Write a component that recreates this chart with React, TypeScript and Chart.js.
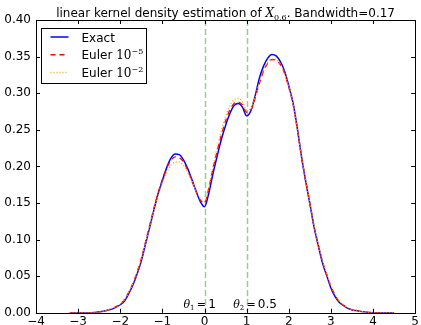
import React, { useEffect, useRef } from "react";
import { Chart, registerables } from "chart.js";

Chart.register(...registerables);

const xValues = [
  -3.2, -3.0, -2.8, -2.6, -2.4, -2.2, -2.0, -1.9, -1.8, -1.7, -1.6, -1.5, -1.4, -1.3, -1.2, -1.1,
  -1.0, -0.9, -0.8, -0.7, -0.6, -0.5, -0.4, -0.3, -0.2, -0.1, 0.0, 0.1, 0.2, 0.3, 0.4, 0.5, 0.6,
  0.7, 0.8, 0.9, 1.0, 1.1, 1.2, 1.3, 1.4, 1.5, 1.6, 1.7, 1.8, 1.9, 2.0, 2.1, 2.2, 2.3, 2.4, 2.5,
  2.6, 2.7, 2.8, 2.9, 3.0, 3.1, 3.2, 3.3, 3.4, 3.5, 3.6, 3.8, 4.0, 4.2, 4.5,
];

const exactValues = [
  0, 0, 0, 0.0005, 0.002, 0.005, 0.011, 0.016, 0.026, 0.038, 0.053, 0.071, 0.094, 0.117, 0.141, 0.163,
  0.181, 0.198, 0.211, 0.217, 0.216, 0.209, 0.197, 0.182, 0.166, 0.152, 0.145, 0.163, 0.19, 0.214, 0.237, 0.256, 0.272,
  0.283, 0.286, 0.281, 0.269, 0.276, 0.296, 0.32, 0.337, 0.348, 0.353, 0.351, 0.343, 0.33, 0.31, 0.287, 0.253, 0.214, 0.18, 0.149,
  0.117, 0.092, 0.068, 0.051, 0.034, 0.022, 0.014, 0.01, 0.006, 0.004, 0.003, 0.001, 0, 0, 0,
];

const euler5Values = [
  0, 0, 0, 0.0005, 0.002, 0.006, 0.012, 0.018, 0.028, 0.04, 0.056, 0.074, 0.097, 0.12, 0.143, 0.164,
  0.182, 0.197, 0.208, 0.213, 0.212, 0.206, 0.195, 0.18, 0.166, 0.154, 0.15, 0.17, 0.197, 0.221, 0.243, 0.262, 0.277,
  0.286, 0.288, 0.284, 0.274, 0.277, 0.293, 0.313, 0.33, 0.341, 0.346, 0.345, 0.339, 0.327, 0.308, 0.285, 0.252, 0.214, 0.181, 0.15,
  0.118, 0.093, 0.07, 0.052, 0.036, 0.024, 0.015, 0.01, 0.007, 0.004, 0.003, 0.001, 0, 0, 0,
];

const euler2Values = [
  0, 0, 0, 0.0005, 0.002, 0.006, 0.012, 0.018, 0.028, 0.04, 0.055, 0.073, 0.095, 0.118, 0.14, 0.16,
  0.177, 0.191, 0.201, 0.206, 0.206, 0.201, 0.192, 0.18, 0.167, 0.156, 0.152, 0.172, 0.2, 0.226, 0.249, 0.268, 0.283,
  0.291, 0.293, 0.288, 0.277, 0.279, 0.294, 0.314, 0.331, 0.342, 0.347, 0.346, 0.34, 0.328, 0.309, 0.285, 0.252, 0.215, 0.182, 0.15,
  0.119, 0.094, 0.071, 0.053, 0.037, 0.025, 0.016, 0.011, 0.007, 0.004, 0.003, 0.001, 0, 0, 0,
];

const xTicks = [-4, -3, -2, -1, 0, 1, 2, 3, 4, 5];
const yTicks = [0, 0.05, 0.1, 0.15, 0.2, 0.25, 0.3, 0.35, 0.4];
const thetaLines = [0, 1];

const SANS = "'DejaVu Sans', sans-serif";
const SERIF = "'DejaVu Serif', serif";

type Part = { t: string; f: string; dy?: number };

function drawRich(ctx: CanvasRenderingContext2D, parts: Part[], x: number, y: number, align: "left" | "center") {
  let total = 0;
  for (const p of parts) {
    ctx.font = p.f;
    total += ctx.measureText(p.t).width;
  }
  let cx = align === "center" ? x - total / 2 : x;
  ctx.textBaseline = "alphabetic";
  ctx.textAlign = "left";
  ctx.fillStyle = "#000";
  for (const p of parts) {
    ctx.font = p.f;
    ctx.fillText(p.t, cx, y + (p.dy || 0));
    cx += ctx.measureText(p.t).width;
  }
}

const decorPlugin = {
  id: "decor",
  beforeDatasetsDraw(chart: any) {
    const { ctx, chartArea, scales } = chart;
    ctx.save();
    ctx.strokeStyle = "rgba(0,128,0,0.4)";
    ctx.lineWidth = 1.5;
    ctx.setLineDash([6, 3]);
    for (const v of thetaLines) {
      const px = Math.round(scales.x.getPixelForValue(v)) + 0.5;
      ctx.beginPath();
      ctx.moveTo(px, chartArea.top);
      ctx.lineTo(px, chartArea.bottom);
      ctx.stroke();
    }
    ctx.restore();
  },
  afterDraw(chart: any) {
    const { ctx, chartArea, scales } = chart;
    const { left, right, top, bottom } = chartArea;
    ctx.save();
    ctx.strokeStyle = "#000";
    ctx.lineWidth = 1;
    ctx.setLineDash([]);
    ctx.strokeRect(Math.round(left) + 0.5, Math.round(top) + 0.5, Math.round(right - left), Math.round(bottom - top));
    const tl = 4;
    ctx.beginPath();
    for (const v of xTicks) {
      const px = Math.round(scales.x.getPixelForValue(v)) + 0.5;
      ctx.moveTo(px, bottom);
      ctx.lineTo(px, bottom - tl);
      ctx.moveTo(px, top);
      ctx.lineTo(px, top + tl);
    }
    for (const v of yTicks) {
      const py = Math.round(scales.y.getPixelForValue(v)) + 0.5;
      ctx.moveTo(left, py);
      ctx.lineTo(left + tl, py);
      ctx.moveTo(right, py);
      ctx.lineTo(right - tl, py);
    }
    ctx.stroke();

    drawRich(
      ctx,
      [
        { t: "linear kernel density estimation of ", f: `12px ${SANS}` },
        { t: "X", f: `italic 12px ${SERIF}` },
        { t: "0.6", f: `8px ${SERIF}`, dy: 3 },
        { t: ". Bandwidth=0.17", f: `12px ${SANS}` },
      ],
      (left + right) / 2,
      top - 3,
      "center"
    );

    const ay = scales.y.getPixelForValue(0.007);
    drawRich(
      ctx,
      [
        { t: "θ", f: `italic 11px ${SERIF}` },
        { t: "1", f: `7px ${SERIF}`, dy: 2 },
        { t: "\u2009=\u2009", f: `11px ${SERIF}` },
        { t: "1", f: `12px ${SANS}` },
      ],
      scales.x.getPixelForValue(-0.5),
      ay,
      "left"
    );
    drawRich(
      ctx,
      [
        { t: "θ", f: `italic 11px ${SERIF}` },
        { t: "2", f: `7px ${SERIF}`, dy: 2 },
        { t: "\u2009=\u2009", f: `11px ${SERIF}` },
        { t: "0.5", f: `12px ${SANS}` },
      ],
      scales.x.getPixelForValue(0.68),
      ay,
      "left"
    );

    const bx = Math.round(left) + 5.5;
    const by = Math.round(top) + 8.5;
    const bw = 105;
    const bh = 55;
    ctx.fillStyle = "#fff";
    ctx.fillRect(bx, by, bw, bh);
    ctx.strokeStyle = "#000";
    ctx.lineWidth = 1;
    ctx.setLineDash([]);
    ctx.strokeRect(bx, by, bw, bh);
    const items = [
      { color: "#0000ff", dash: [] as number[], label: [{ t: "Exact", f: `12px ${SANS}` }] as Part[] },
      {
        color: "#ff0000",
        dash: [5, 4],
        label: [
          { t: "Euler ", f: `12px ${SANS}` },
          { t: "10", f: `12px ${SERIF}` },
          { t: "−5", f: `8px ${SERIF}`, dy: -5 },
        ] as Part[],
      },
      {
        color: "#ffa500",
        dash: [1, 2],
        label: [
          { t: "Euler ", f: `12px ${SANS}` },
          { t: "10", f: `12px ${SERIF}` },
          { t: "−2", f: `8px ${SERIF}`, dy: -5 },
        ] as Part[],
      },
    ];
    items.forEach((it, i) => {
      const ly = by + 8.5 + i * 17.8;
      ctx.strokeStyle = it.color;
      ctx.lineWidth = 1.5;
      ctx.setLineDash(it.dash);
      ctx.beginPath();
      ctx.moveTo(bx + 9, ly);
      ctx.lineTo(bx + 27, ly);
      ctx.stroke();
      ctx.setLineDash([]);
      drawRich(ctx, it.label, bx + 40, ly + 4.5, "left");
    });
    ctx.restore();
  },
};

export default function App() {
  const ref = useRef<HTMLCanvasElement | null>(null);
  useEffect(() => {
    if (!ref.current) return;
    const mk = (vals: number[]) => xValues.map((x, i) => ({ x, y: vals[i] }));
    const chart = new Chart(ref.current, {
      type: "line",
      data: {
        datasets: [
          {
            label: "Euler 10^-2",
            data: mk(euler2Values),
            borderColor: "#ffa500",
            borderWidth: 1.3,
            borderDash: [1, 2],
            pointRadius: 0,
            cubicInterpolationMode: "monotone",
            fill: false,
          },
          {
            label: "Euler 10^-5",
            data: mk(euler5Values),
            borderColor: "#ff0000",
            borderWidth: 1.3,
            borderDash: [5, 4],
            pointRadius: 0,
            cubicInterpolationMode: "monotone",
            fill: false,
          },
          {
            label: "Exact",
            data: mk(exactValues),
            borderColor: "#0000ff",
            borderWidth: 1.5,
            pointRadius: 0,
            cubicInterpolationMode: "monotone",
            fill: false,
          },
        ],
      },
      options: {
        animation: false,
        responsive: false,
        devicePixelRatio: 1,
        layout: { padding: { top: 20, right: 5, left: 0, bottom: 0 } },
        plugins: { legend: { display: false }, title: { display: false }, tooltip: { enabled: false } },
        scales: {
          x: {
            type: "linear",
            min: -4,
            max: 5,
            afterBuildTicks: (s: any) => {
              s.ticks = xTicks.map((v) => ({ value: v }));
            },
            afterFit: (s: any) => {
              s.height = 12;
            },
            grid: { display: false, drawTicks: false },
            border: { display: false },
            ticks: {
              padding: 2,
              color: "#000",
              font: { family: "DejaVu Sans", size: 12 },
              maxRotation: 0,
              autoSkip: false,
              callback: (v: any) => String(v).replace("-", "−"),
            },
          },
          y: {
            type: "linear",
            min: 0,
            max: 0.4,
            afterBuildTicks: (s: any) => {
              s.ticks = yTicks.map((v) => ({ value: v }));
            },
            afterFit: (s: any) => {
              s.width = 36;
            },
            grid: { display: false, drawTicks: false },
            border: { display: false },
            ticks: {
              padding: 5,
              color: "#000",
              font: { family: "DejaVu Sans", size: 12 },
              autoSkip: false,
              callback: (v: any) => Number(v).toFixed(2),
            },
          },
        },
      },
      plugins: [decorPlugin],
    } as any);
    return () => chart.destroy();
  }, []);
  return (
    <div style={{ position: "absolute", left: 0, top: 0, width: 421, height: 325, background: "#fff" }}>
      <canvas ref={ref} width={421} height={325} style={{ display: "block" }} />
    </div>
  );
}
